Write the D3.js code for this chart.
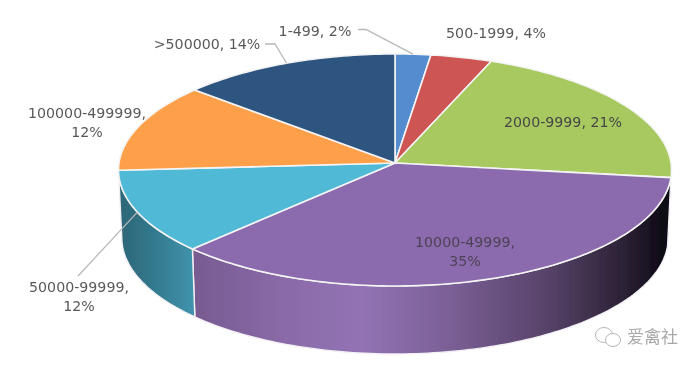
<!DOCTYPE html>
<html>
<head>
<meta charset="utf-8">
<script src="https://cdn.jsdelivr.net/npm/d3@7"></script>
<style>
  html, body { margin: 0; padding: 0; background: #fff; }
  svg { display: block; }
  text { font-family: "DejaVu Sans", sans-serif; font-size: 14.2px; fill: #595959; }
</style>
</head>
<body>
<svg width="700" height="368"></svg>
<script>
// share of each band (labels show them rounded)
const categories = ["1-499", "500-1999", "2000-9999", "10000-49999", "50000-99999", "100000-499999", ">500000"];
const shares = [2.2, 3.8, 21, 35.4, 11.6, 12.4, 13.6];
const colors = ["#558cd0", "#cd5654", "#a7c960", "#8b6bad", "#4fb9d6", "#fda049", "#2f547f"];

const width = 700, height = 368;
const svg = d3.select("svg");

// tilted disc, slightly perspective like the Excel 3D pie
const cx = 395, cy = 163, rx = 276, ry = 115.6, k = 0.06, depth = 68;

function project(a, drop) {
  const X = Math.sin(a), Y = Math.cos(a);
  const f = 1 + k * Y;
  const shrink = drop ? 0.988 : 1;
  return [cx + rx * shrink * X / f, cy - ry * Y / f + (drop || 0)];
}

function rim(a0, a1, drop) {
  const n = Math.max(2, Math.ceil((a1 - a0) / 0.02));
  return d3.range(n + 1).map(i => project(a0 + (a1 - a0) * i / n, drop));
}

const line = d3.line();
const slices = d3.pie().sort(null).value(d => d)(shares);

const defs = svg.append("defs");
defs.append("filter").attr("id", "soft")
  .append("feGaussianBlur").attr("stdDeviation", 0.45);

function wallGradient(id, stops) {
  defs.append("linearGradient").attr("id", id)
    .attr("gradientUnits", "userSpaceOnUse")
    .attr("x1", 119).attr("x2", 671).attr("y1", 0).attr("y2", 0)
    .selectAll("stop").data(stops).enter().append("stop")
    .attr("offset", d => d[0])
    .attr("stop-color", d => d[1]);
}
wallGradient("wall3", [[0.13, "#775a90"], [0.3, "#8a6aa8"], [0.44, "#9373b4"], [0.6, "#7a5f95"], [0.78, "#564268"], [0.92, "#2a2033"], [1, "#080510"]]);
wallGradient("wall4", [[0, "#2c6677"], [0.06, "#33788c"], [0.14, "#4095ae"]]);

const chart = svg.append("g").attr("filter", "url(#soft)");

// side walls, only the front slices show one
const walls = [
  { i: 3, fill: "url(#wall3)" },
  { i: 4, fill: "url(#wall4)" }
];
chart.selectAll(".wall").data(walls).enter().append("path")
  .attr("class", "wall")
  .attr("d", d => {
    const s = slices[d.i];
    const top = rim(s.startAngle, s.endAngle);
    const bottom = rim(s.startAngle, s.endAngle, depth).reverse();
    return line(top.concat(bottom)) + "Z";
  })
  .attr("fill", d => d.fill)
  .attr("stroke", "#f2eff5")
  .attr("stroke-width", 1.4);

// top faces
chart.selectAll(".slice").data(slices).enter().append("path")
  .attr("class", "slice")
  .attr("d", d => line([[cx, cy]].concat(rim(d.startAngle, d.endAngle))) + "Z")
  .attr("fill", (d, i) => colors[i])
  .attr("stroke", "#f4f4f4")
  .attr("stroke-width", 1.6)
  .attr("stroke-linejoin", "round");

function midAngle(i) { return (slices[i].startAngle + slices[i].endAngle) / 2; }

// leader lines run from the label to the middle of the slice rim
const leaders = [
  { i: 0, from: [[358, 29.5], [366, 29.5]] },
  { i: 6, from: [[265, 44], [275, 44]] },
  { i: 4, from: [[78, 276]] }
];
chart.selectAll(".leader").data(leaders).enter().append("path")
  .attr("class", "leader")
  .attr("d", d => line(d.from.concat([project(midAngle(d.i))])))
  .attr("fill", "none")
  .attr("stroke", "#b8b8b8")
  .attr("stroke-width", 1.3);

// label placement per slice: centre x, baseline y, and whether it wraps
const labelPos = [
  { x: 315, y: 36, wrap: false },
  { x: 496, y: 38, wrap: false },
  { x: 563, y: 127, wrap: false, fill: "#474747" },
  { x: 465, y: 247, wrap: true, fill: "#4d4256" },
  { x: 79, y: 292, wrap: true },
  { x: 87, y: 118, wrap: true },
  { x: 207, y: 49, wrap: false }
];

const labels = chart.selectAll(".label").data(categories).enter().append("text")
  .attr("class", "label")
  .attr("text-anchor", "middle")
  .attr("x", (d, i) => labelPos[i].x)
  .attr("y", (d, i) => labelPos[i].y)
  .style("fill", (d, i) => labelPos[i].fill || null);

labels.each(function(d, i) {
  const pct = Math.round(shares[i]) + "%";
  const t = d3.select(this);
  if (labelPos[i].wrap) {
    t.append("tspan").attr("x", labelPos[i].x).text(d + ",");
    t.append("tspan").attr("x", labelPos[i].x).attr("dy", 19).text(pct);
  } else {
    t.text(d + ", " + pct);
  }
});

// watermark
const mark = chart.append("g").attr("fill", "#fff").attr("stroke", "#b5b5b5").attr("stroke-width", 1);
mark.append("ellipse").attr("cx", 604).attr("cy", 335).attr("rx", 8.5).attr("ry", 7.5);
mark.append("ellipse").attr("cx", 613).attr("cy", 340).attr("rx", 7.5).attr("ry", 6.5);
chart.append("text")
  .attr("x", 627).attr("y", 343)
  .style("font-family", '"Noto Sans CJK SC"')
  .style("font-size", "17px")
  .style("fill", "#a8a8a8")
  .text("爱禽社");
</script>
</body>
</html>
